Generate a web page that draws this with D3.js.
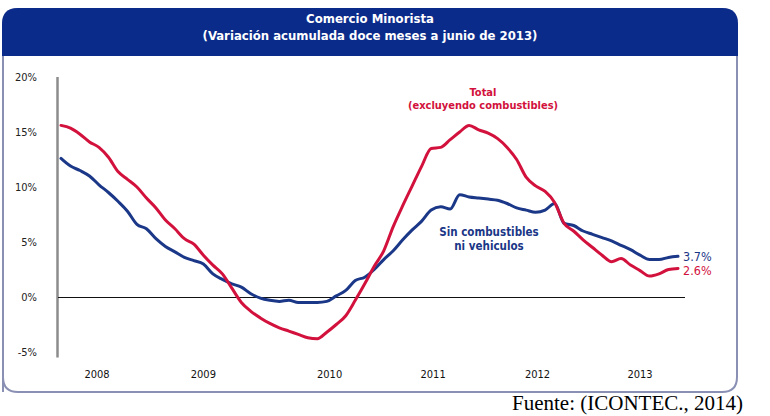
<!DOCTYPE html>
<html>
<head>
<meta charset="utf-8">
<script src="https://cdn.jsdelivr.net/npm/d3@7"></script>
<style>
  html, body { margin: 0; padding: 0; background: #fff; }
  svg { display: block; font-family: "DejaVu Sans Condensed", "DejaVu Sans", sans-serif; }
</style>
</head>
<body>
<div id="chart"></div>
<script>
// Monthly values, Jan 2008 - Jun 2013 (12-month cumulative change, %)
const totalSeries = [
  15.6, 15.35, 14.8, 14.1, 13.6, 12.7, 11.4, 10.7, 10.0, 9.0, 8.1, 7.0,
  6.2, 5.3, 4.8, 3.8, 2.9, 2.1, 0.8, -0.5, -1.3, -1.9, -2.4, -2.8,
  -3.1, -3.4, -3.7, -3.8, -3.2, -2.5, -1.7, -0.3, 1.2, 2.8, 4.2, 6.4,
  8.3, 10.1, 11.9, 13.5, 13.6, 14.3, 15.0, 15.6, 15.2, 14.9, 14.4, 13.6,
  12.5, 10.9, 10.1, 9.6, 8.6, 6.7, 6.0, 5.2, 4.5, 3.8, 3.2, 3.5,
  2.9, 2.4, 1.9, 2.1, 2.5, 2.6
];
const sinCombSeries = [
  12.6, 11.9, 11.5, 11.0, 10.2, 9.5, 8.7, 7.8, 6.6, 6.2, 5.3, 4.6,
  4.1, 3.6, 3.3, 3.0, 2.1, 1.6, 1.2, 0.9, 0.3, -0.1, -0.3, -0.4,
  -0.3, -0.5, -0.5, -0.5, -0.4, 0.1, 0.6, 1.5, 1.8, 2.5, 3.4, 4.2,
  5.2, 6.1, 6.9, 7.9, 8.2, 8.0, 9.3, 9.1, 9.0, 8.9, 8.8, 8.5,
  8.1, 7.9, 7.7, 7.9, 8.5, 6.7, 6.5, 6.0, 5.7, 5.4, 5.1, 4.7,
  4.3, 3.8, 3.4, 3.4, 3.6, 3.7
];
const yTicks = [-5, 0, 5, 10, 15, 20];
const yearLabels = ['2008', '2009', '2010', '2011', '2012', '2013'];
const yearLabelAt = [3.8, 15.0, 28.3, 39.2, 50.2, 61.0]; // month index where each year label sits
const titleLines = ['Comercio Minorista', '(Variación acumulada doce meses a junio de 2013)'];

const W = 770, H = 416;
const red = '#d2113c', blue = '#1b3787', navy = '#0b2b8b';

const svg = d3.select('#chart').append('svg').attr('width', W).attr('height', H);

// Card frame with dark header band
svg.append('path')
  .attr('d', 'M3,392 L3,24 Q3,9 18,9 L722,9 Q737,9 737,24 L737,377 Q737,392 722,392 L18,392 Q3,392 3,377 Z')
  .attr('fill', '#fff').attr('stroke', '#8a90b4').attr('stroke-width', 2);
svg.append('path')
  .attr('d', 'M2,56 L2,24 Q2,8 18,8 L722,8 Q738,8 738,24 L738,56 Z')
  .attr('fill', navy);

svg.selectAll('text.title').data(titleLines).join('text')
  .attr('class', 'title')
  .attr('x', 370).attr('y', (d, i) => 23 + i * 17)
  .attr('text-anchor', 'middle')
  .attr('fill', '#fff').attr('font-weight', 'bold').attr('font-size', 13)
  .text(d => d);

// Scales
const x = d3.scaleLinear().domain([0, totalSeries.length - 1]).range([61, 678]);
const y = d3.scaleLinear().domain([-5, 20]).range([352, 77]);

// Y axis line and labels
svg.append('line')
  .attr('x1', 57.5).attr('x2', 57.5).attr('y1', y(20)).attr('y2', y(-5.5))
  .attr('stroke', '#8c8c8c').attr('stroke-width', 2.5);
svg.selectAll('text.ytick').data(yTicks).join('text')
  .attr('class', 'ytick')
  .attr('x', 37).attr('y', d => y(d)).attr('dy', '0.35em')
  .attr('text-anchor', 'end').attr('font-size', 11).attr('fill', '#222')
  .text(d => d + '%');

// Zero line
svg.append('line')
  .attr('x1', 58).attr('x2', 685).attr('y1', y(0) + 0.5).attr('y2', y(0) + 0.5)
  .attr('stroke', '#111').attr('stroke-width', 1.2);

// Year labels
svg.selectAll('text.year').data(yearLabels).join('text')
  .attr('class', 'year')
  .attr('x', (d, i) => x(yearLabelAt[i])).attr('y', 378)
  .attr('text-anchor', 'middle').attr('font-size', 11).attr('fill', '#111')
  .text(d => d);

// Lines
const line = d3.line().x((d, i) => x(i)).y(d => y(d)).curve(d3.curveMonotoneX);
[[sinCombSeries, blue], [totalSeries, red]].forEach(([s, c]) => {
  svg.append('path').datum(s)
    .attr('d', line).attr('fill', 'none')
    .attr('stroke', c).attr('stroke-width', 3)
    .attr('stroke-linejoin', 'round').attr('stroke-linecap', 'round');
});

// End value labels
const last = totalSeries.length - 1;
svg.append('text').attr('x', x(last) + 5).attr('y', y(sinCombSeries[last])).attr('dy', '0.35em')
  .attr('font-size', 12.5).attr('fill', blue).text(sinCombSeries[last].toFixed(1) + '%');
svg.append('text').attr('x', x(last) + 5).attr('y', y(totalSeries[last]) + 2).attr('dy', '0.35em')
  .attr('font-size', 12.5).attr('fill', red).text(totalSeries[last].toFixed(1) + '%');

// Series annotations
svg.selectAll('text.ann-red').data(['Total', '(excluyendo combustibles)']).join('text')
  .attr('class', 'ann-red')
  .attr('x', 483).attr('y', (d, i) => 96 + i * 13)
  .attr('text-anchor', 'middle').attr('font-size', 11).attr('font-weight', 'bold').attr('fill', red)
  .text(d => d);
svg.selectAll('text.ann-blue').data(['Sin combustibles', 'ni vehiculos']).join('text')
  .attr('class', 'ann-blue')
  .attr('x', 489).attr('y', (d, i) => 236 + i * 14)
  .attr('text-anchor', 'middle').attr('font-size', 11.5).attr('font-weight', 'bold').attr('fill', blue)
  .text(d => d);

// Source note below the card
svg.append('text')
  .attr('x', 512).attr('y', 410)
  .attr('font-family', '"Liberation Serif", "Times New Roman", serif')
  .attr('font-size', 21).attr('fill', '#000')
  .text('Fuente: (ICONTEC., 2014)');
</script>
</body>
</html>
